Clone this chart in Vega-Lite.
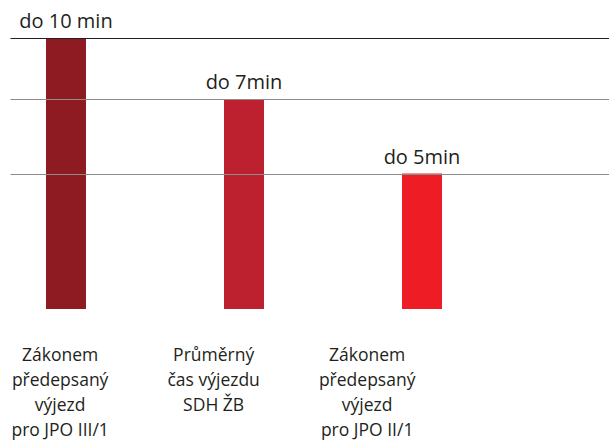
{
  "$schema": "https://vega.github.io/schema/vega-lite/v6.json",
  "width": 599,
  "height": 271,
  "autosize": {"type": "none"},
  "padding": {"left": 10, "top": 38, "right": 0, "bottom": 137},
  "background": "white",
  "config": {"view": {"stroke": null}, "font": "Open Sans"},
  "data": {
    "values": [
      {"category": "Zákonem|předepsaný|výjezd|pro JPO III/1", "minutes": 10, "label": "do 10 min"},
      {"category": "Průměrný|čas výjezdu|SDH ŽB", "minutes": 7.75, "label": "do 7min"},
      {"category": "Zákonem|předepsaný|výjezd|pro JPO II/1", "minutes": 5, "label": "do 5min"}
    ]
  },
  "layer": [
    {
      "encoding": {
        "x": {
          "field": "category",
          "type": "nominal",
          "sort": null,
          "scale": {"paddingInner": 0.7753, "paddingOuter": 0.5702, "align": 0.1773},
          "axis": null
        },
        "y": {
          "field": "minutes",
          "type": "quantitative",
          "scale": {"domain": [0, 10], "nice": false, "zero": true},
          "axis": {
            "values": [5, 7.75, 10],
            "grid": true,
            "labels": false,
            "ticks": false,
            "domain": false,
            "title": null,
            "zindex": 1,
            "gridWidth": 1,
            "gridColor": {"condition": {"test": "datum.value == 10", "value": "#231f20"}, "value": "#8c8c8c"}
          }
        }
      },
      "layer": [
        {
          "mark": {"type": "bar", "width": 40},
          "encoding": {
            "color": {
              "field": "category",
              "type": "nominal",
              "sort": null,
              "scale": {"range": ["#8e1b22", "#bd202e", "#ee1d25"]},
              "legend": null
            }
          }
        },
        {
          "mark": {"type": "text", "baseline": "alphabetic", "align": "center", "dy": -10, "fontSize": 20, "color": "#231f20"},
          "encoding": {"text": {"field": "label", "type": "nominal"}}
        }
      ]
    },
    {
      "mark": {"type": "point", "opacity": 0},
      "encoding": {
        "x": {
          "field": "category",
          "type": "nominal",
          "sort": null,
          "scale": {"type": "point", "padding": 0.951, "align": 0.17},
          "axis": {
            "domain": false,
            "ticks": false,
            "grid": false,
            "title": null,
            "labelAngle": 0,
            "labelFontSize": 17.5,
            "labelColor": "#231f20",
            "labelPadding": 37,
            "labelLineHeight": 25,
            "labelLimit": 0,
            "labelOverlap": false,
            "labelFont": "Open Sans",
            "labelExpr": "split(datum.label, '|')"
          }
        }
      }
    }
  ],
  "resolve": {"scale": {"x": "independent"}, "axis": {"x": "independent"}}
}
